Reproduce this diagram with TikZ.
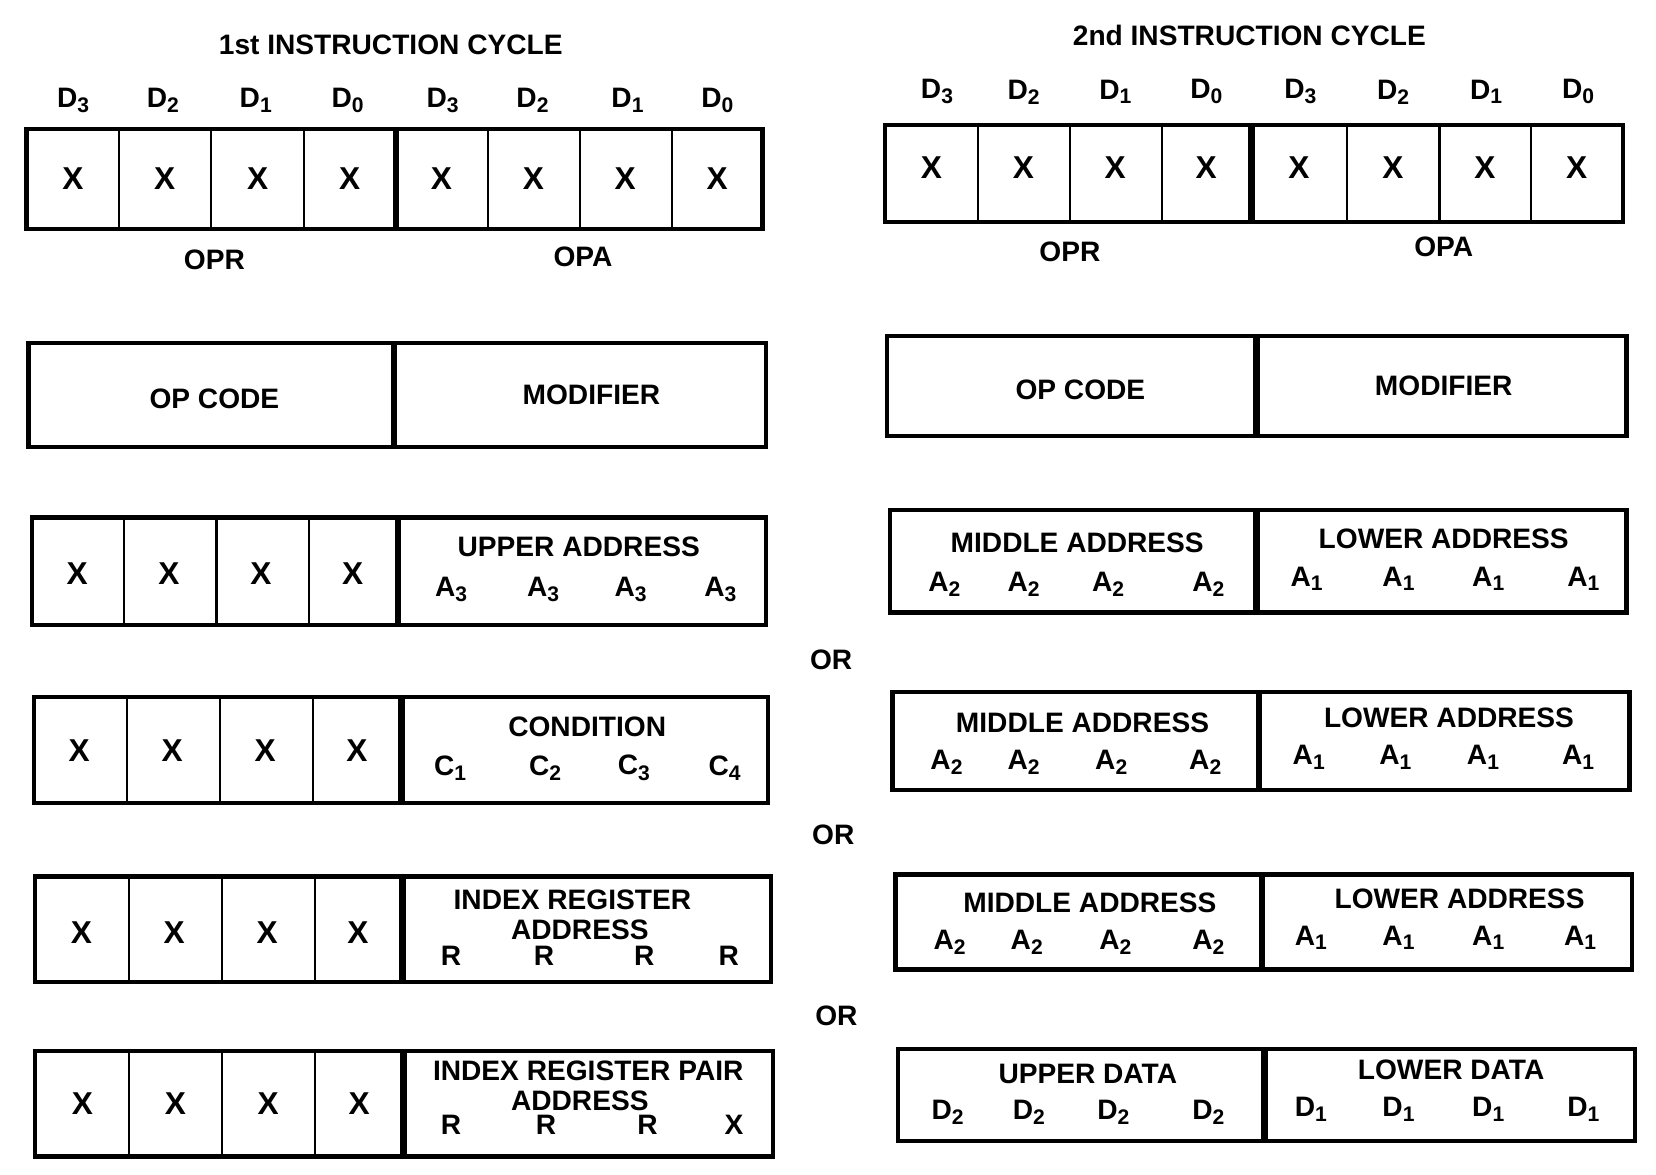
\documentclass[tikz,border=0pt]{standalone}
\usepackage{fontspec}
\setmainfont{Liberation Sans}
\tikzset{
  frame/.style={line width=1.2pt},
  cell/.style={line width=0.6pt},
  split/.style={line width=1.9pt},
  txt/.style={font=\bfseries\fontsize{8}{9}\selectfont, inner sep=0pt},
  bigx/.style={font=\bfseries\fontsize{9}{10}\selectfont, inner sep=0pt},
}
\newcommand{\sub}[2]{#1\textsubscript{#2}}
\begin{document}
\begin{tikzpicture}[x=0.10561mm,y=-0.10561mm]
\useasboundingbox (0,0) rectangle (1568,1112);
% titles and bit labels
\node[txt] (title1) at (370,42) {1st INSTRUCTION CYCLE};
\node[txt] (title2) at (1183,34) {2nd INSTRUCTION CYCLE};
\foreach \x/\d [count=\i] in {70/3,155/2,243/1,330/0,420/3,505/2,595/1,680/0}
  \node[txt] (dl\i) at (\x,95) {\sub{D}{\d}};
\foreach \x/\d [count=\i] in {888/3,970/2,1057/1,1143/0,1232/3,1320/2,1408/1,1495/0}
  \node[txt] (dr\i) at (\x,87) {\sub{D}{\d}};
% row 1
\draw[frame] (25,122) rectangle (722,217);
\foreach \x in {113,200,288,462,549,636} \draw[cell] (\x,122) -- (\x,217);
\draw[split] (375,122) -- (375,217);
\foreach \x [count=\i] in {69,156,244,331,418,505,592,679}
  \node[bigx] (xa\i) at (\x,169) {X};
\draw[frame] (838,118) rectangle (1537,210);
\foreach \x in {926,1013,1100,1275,1363,1450} \draw[cell] (\x,118) -- (\x,210);
\draw[split] (1185,118) -- (1185,210);
\foreach \x [count=\i] in {882,969,1056,1142,1230,1319,1406,1493}
  \node[bigx] (xb\i) at (\x,159) {X};
\node[txt] (opr1) at (203,246) {OPR};
\node[txt] (opa1) at (552,243) {OPA};
\node[txt] (opr2) at (1013,238) {OPR};
\node[txt] (opa2) at (1367,234) {OPA};
% row 2
\draw[frame] (27,325) rectangle (725,423);
\draw[split] (373,325) -- (373,423);
\node[txt] (opc1) at (203,378) {OP CODE};
\node[txt] (mod1) at (560,374) {MODIFIER};
\draw[frame] (840,318) rectangle (1540,413);
\draw[split] (1190,318) -- (1190,413);
\node[txt] (opc2) at (1023,369) {OP CODE};
\node[txt] (mod2) at (1367,365) {MODIFIER};
% row 3
\draw[frame] (30,490) rectangle (725,592);
\foreach \x in {117,205,293} \draw[cell] (\x,490) -- (\x,592);
\draw[split] (377,490) -- (377,592);
\foreach \x [count=\i] in {73,160,247,334}
  \node[bigx] (xc\i) at (\x,543) {X};
\node[txt] (upa) at (548,518) {UPPER ADDRESS};
\foreach \x [count=\i] in {428,515,598,683}
  \node[txt] (a3\i) at (\x,558) {\sub{A}{3}};
\draw[frame] (843,483) rectangle (1540,580);
\draw[split] (1190,483) -- (1190,580);
\node[txt] (mida) at (1020,514) {MIDDLE ADDRESS};
\foreach \x [count=\i] in {895,970,1050,1145}
  \node[txt] (a2a\i) at (\x,553) {\sub{A}{2}};
\node[txt] (lowa) at (1367,510) {LOWER ADDRESS};
\foreach \x [count=\i] in {1238,1325,1410,1500}
  \node[txt] (a1a\i) at (\x,548) {\sub{A}{1}};
\node[txt] (or1) at (787,625) {OR};
% row 4
\draw[frame] (32,660) rectangle (727,760);
\foreach \x in {120,208,296} \draw[cell] (\x,660) -- (\x,760);
\draw[split] (380,660) -- (380,760);
\foreach \x [count=\i] in {75,163,251,338}
  \node[bigx] (xd\i) at (\x,711) {X};
\node[txt] (cond) at (556,688) {CONDITION};
\foreach \x/\c [count=\i] in {427/1,517/2,601/3,687/4}
  \node[txt] (c\i) at (\x,727) {\sub{C}{\c}};
\draw[frame] (845,655) rectangle (1543,748);
\draw[split] (1192,655) -- (1192,748);
\node[txt] (midb) at (1025,684) {MIDDLE ADDRESS};
\foreach \x [count=\i] in {897,970,1053,1142}
  \node[txt] (a2b\i) at (\x,722) {\sub{A}{2}};
\node[txt] (lowb) at (1372,680) {LOWER ADDRESS};
\foreach \x [count=\i] in {1240,1322,1405,1495}
  \node[txt] (a1b\i) at (\x,717) {\sub{A}{1}};
\node[txt] (or2) at (789,790) {OR};
% row 5
\draw[frame] (33,830) rectangle (730,930);
\foreach \x in {122,210,298} \draw[cell] (\x,830) -- (\x,930);
\draw[split] (381,830) -- (381,930);
\foreach \x [count=\i] in {77,165,253,339}
  \node[bigx] (xe\i) at (\x,883) {X};
\node[txt] (ireg) at (542,852) {INDEX REGISTER};
\node[txt] (iadr) at (549,880) {ADDRESS};
\foreach \x [count=\i] in {427,515,610,690}
  \node[txt] (ra\i) at (\x,905) {R};
\draw[frame] (848,828) rectangle (1545,918);
\draw[split] (1195,828) -- (1195,918);
\node[txt] (midc) at (1032,855) {MIDDLE ADDRESS};
\foreach \x [count=\i] in {900,973,1057,1145}
  \node[txt] (a2c\i) at (\x,892) {\sub{A}{2}};
\node[txt] (lowc) at (1382,851) {LOWER ADDRESS};
\foreach \x [count=\i] in {1242,1325,1410,1497}
  \node[txt] (a1c\i) at (\x,888) {\sub{A}{1}};
\node[txt] (or3) at (792,962) {OR};
% row 6
\draw[frame] (33,995) rectangle (732,1095);
\foreach \x in {122,210,298} \draw[cell] (\x,995) -- (\x,1095);
\draw[split] (382,995) -- (382,1095);
\foreach \x [count=\i] in {78,166,254,340}
  \node[bigx] (xf\i) at (\x,1045) {X};
\node[txt] (ipreg) at (557,1014) {INDEX REGISTER PAIR};
\node[txt] (ipadr) at (549,1042) {ADDRESS};
\foreach \x/\r [count=\i] in {427/R,517/R,613/R,695/X}
  \node[txt] (rb\i) at (\x,1065) {\r};
\draw[frame] (850,993) rectangle (1548,1080);
\draw[split] (1197,993) -- (1197,1080);
\node[txt] (upd) at (1030,1017) {UPPER DATA};
\foreach \x [count=\i] in {898,975,1055,1145}
  \node[txt] (d2\i) at (\x,1053) {\sub{D}{2}};
\node[txt] (lowd) at (1374,1013) {LOWER DATA};
\foreach \x [count=\i] in {1242,1325,1410,1500}
  \node[txt] (d1\i) at (\x,1050) {\sub{D}{1}};
\end{tikzpicture}
\end{document}
